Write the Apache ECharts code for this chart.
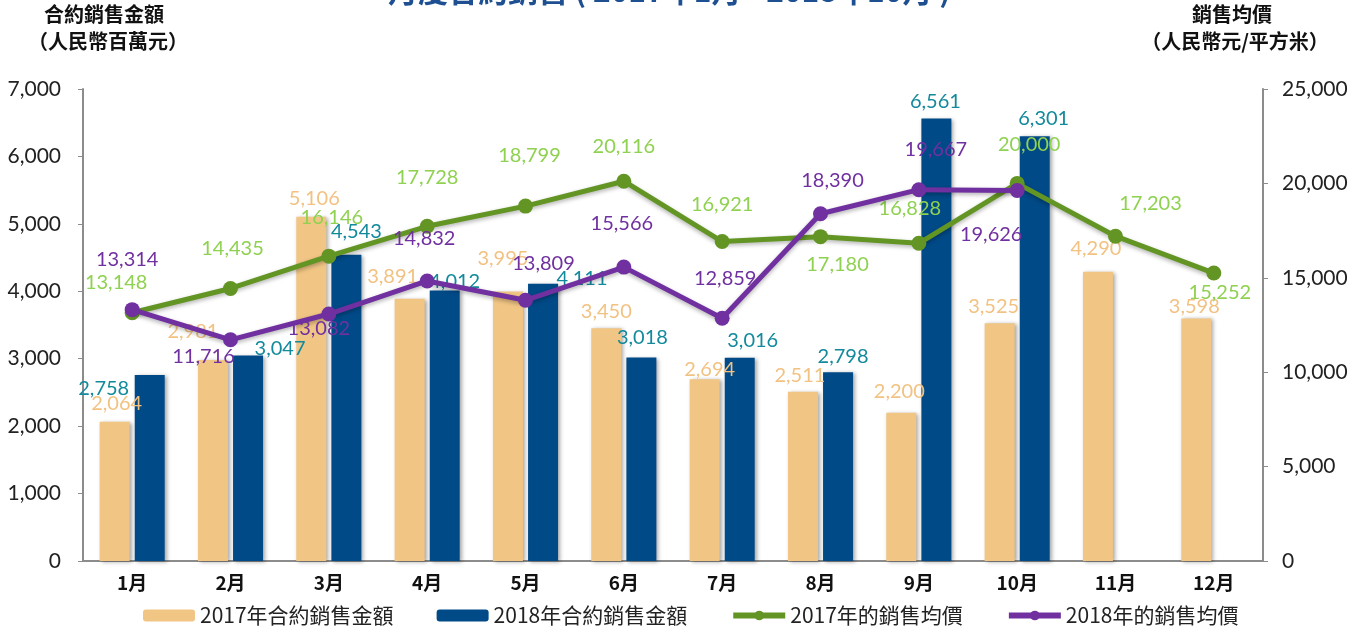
<!DOCTYPE html>
<html>
<head>
<meta charset="utf-8">
<script src="https://cdn.jsdelivr.net/npm/echarts@6/dist/echarts.min.js"></script>
<style>
  html, body { margin: 0; padding: 0; background: #fff; }
  #chart { width: 1359px; height: 633px; }
</style>
</head>
<body>
<div id="chart"></div>
<script>
// months
const months = ['1月', '2月', '3月', '4月', '5月', '6月', '7月', '8月', '9月', '10月', '11月', '12月'];

// contract sales (RMB million)
const sales2017 = [2064, 2981, 5106, 3891, 3995, 3450, 2694, 2511, 2200, 3525, 4290, 3598];
const sales2018 = [2758, 3047, 4543, 4012, 4111, 3018, 3016, 2798, 6561, 6301, null, null];

// average selling price (RMB / sqm)
const price2017 = [13148, 14435, 16146, 17728, 18799, 20116, 16921, 17180, 16828, 20000, 17203, 15252];
const price2018 = [13314, 11716, 13082, 14832, 13809, 15566, 12859, 18390, 19667, 19626, null, null];

// label nudges so the labels sit where the original put them
const sales2017Nudge = [[2, -3], [-20, -13], [3, -3], [-17, -7], [-5, -18], [0, -2], [5, 5], [-3, -1], [-2, -6], [-6, -2], [-2, -8], [-2, 3]];
const sales2018Nudge = [[-46, 29], [32, 8], [10, -8], [10, 6], [39, 10], [1, -5], [13, -2], [5, -1], [-1, -2], [9, -3], [0, 0], [0, 0]];
const price2017Nudge = [[-16, -8], [2, -17], [3, -16], [0, -26], [4, -28], [0, -12], [0, -14], [17, 50], [-9, -12], [12, -16], [35, -10], [6, 42]];
const price2018Nudge = [[-5, -28], [-27, 39], [-10, 37], [-3, -20], [18, -14], [-2, -21], [3, -17], [12, -11], [17, -18], [-26, 67], [0, 0], [0, 0]];

const numFont = 'Lato, "DejaVu Sans", sans-serif';
const cjkFont = '"Noto Sans CJK TC", "Noto Sans", sans-serif';

function fmt(v) {
    return Number(v).toLocaleString('en-US');
}

// attach label offsets to each value
function withNudge(values, nudges) {
    return values.map((v, i) => ({
        value: v,
        label: { offset: nudges[i] }
    }));
}

// one centred line of bold axis-title text
function headText(text, x, y) {
    return {
        type: 'text',
        x: x,
        y: y,
        style: {
            text: text,
            fill: '#111',
            fontSize: 20,
            fontWeight: 'bold',
            fontFamily: cjkFont,
            align: 'center',
            verticalAlign: 'top'
        }
    };
}

const chart = echarts.init(document.getElementById('chart'));

const barShadow = {
    shadowBlur: 4,
    shadowColor: 'rgba(0,0,0,0.35)',
    shadowOffsetX: 2,
    shadowOffsetY: 1
};

chart.setOption({
    animation: false,
    title: {
        text: '月度合約銷售 ( 2017年1月 - 2018年10月 )',
        left: 383,
        top: -29,
        textStyle: { color: '#1d4f91', fontSize: 30, fontWeight: 'bold', fontFamily: cjkFont }
    },
    graphic: [
        headText('合約銷售金額', 104, 4),
        headText('（人民幣百萬元）', 108, 31),
        headText('銷售均價', 1232, 4),
        headText('（人民幣元/平方米）', 1235, 31)
    ],
    legend: {
        left: 138,
        bottom: 2,
        itemWidth: 52,
        itemHeight: 12,
        itemGap: 43,
        lineStyle: { width: 6 },
        textStyle: { color: '#222', fontSize: 21, fontFamily: cjkFont },
        data: ['2017年合約銷售金額', '2018年合約銷售金額', '2017年的銷售均價', '2018年的銷售均價']
    },
    grid: { left: 83, right: 96, top: 89, bottom: 72 },
    xAxis: {
        type: 'category',
        data: months,
        axisLine: { lineStyle: { color: '#8c8c8c', width: 2 } },
        axisTick: { show: false },
        axisLabel: {
            color: '#111',
            fontSize: 19,
            fontWeight: 'bold',
            fontFamily: cjkFont,
            margin: 12
        }
    },
    yAxis: [
        {
            type: 'value',
            min: 0,
            max: 7000,
            interval: 1000,
            splitLine: { show: false },
            axisLine: { show: true, lineStyle: { color: '#8c8c8c', width: 2 } },
            axisTick: { show: true, length: 5, lineStyle: { color: '#8c8c8c' } },
            axisLabel: {
                color: '#222',
                fontSize: 21,
                fontFamily: numFont,
                margin: 22,
                formatter: fmt
            }
        },
        {
            type: 'value',
            min: 0,
            max: 25000,
            interval: 5000,
            splitLine: { show: false },
            axisLine: { show: true, lineStyle: { color: '#8c8c8c', width: 2 } },
            axisTick: { show: true, length: 5, lineStyle: { color: '#8c8c8c' } },
            axisLabel: {
                color: '#222',
                fontSize: 21,
                fontFamily: numFont,
                margin: 19,
                formatter: fmt
            }
        }
    ],
    series: [
        {
            name: '2017年合約銷售金額',
            type: 'bar',
            barWidth: 30,
            barGap: '17%',
            itemStyle: Object.assign({ color: '#f1c584' }, barShadow),
            label: {
                show: true,
                position: 'top',
                color: '#f2c283',
                fontSize: 20,
                fontFamily: numFont,
                formatter: p => fmt(p.value)
            },
            data: withNudge(sales2017, sales2017Nudge)
        },
        {
            name: '2018年合約銷售金額',
            type: 'bar',
            barWidth: 30,
            itemStyle: Object.assign({ color: '#004a88' }, barShadow),
            label: {
                show: true,
                position: 'top',
                color: '#138a9c',
                fontSize: 20,
                fontFamily: numFont,
                formatter: p => (p.value == null ? '' : fmt(p.value))
            },
            data: withNudge(sales2018, sales2018Nudge)
        },
        {
            name: '2017年的銷售均價',
            type: 'line',
            yAxisIndex: 1,
            symbol: 'circle',
            symbolSize: 15,
            z: 5,
            lineStyle: {
                color: '#639524',
                width: 5,
                shadowBlur: 4,
                shadowColor: 'rgba(0,0,0,0.3)',
                shadowOffsetY: 2
            },
            itemStyle: { color: '#639524' },
            label: {
                show: true,
                position: 'top',
                color: '#8fd150',
                fontSize: 20,
                fontFamily: numFont,
                formatter: p => fmt(p.value)
            },
            data: withNudge(price2017, price2017Nudge)
        },
        {
            name: '2018年的銷售均價',
            type: 'line',
            yAxisIndex: 1,
            symbol: 'circle',
            symbolSize: 15,
            z: 6,
            lineStyle: {
                color: '#7030a0',
                width: 5,
                shadowBlur: 4,
                shadowColor: 'rgba(0,0,0,0.3)',
                shadowOffsetY: 2
            },
            itemStyle: { color: '#7030a0' },
            label: {
                show: true,
                position: 'top',
                color: '#7030a0',
                fontSize: 20,
                fontFamily: numFont,
                formatter: p => (p.value == null ? '' : fmt(p.value))
            },
            data: withNudge(price2018, price2018Nudge)
        }
    ]
});
</script>
</body>
</html>
